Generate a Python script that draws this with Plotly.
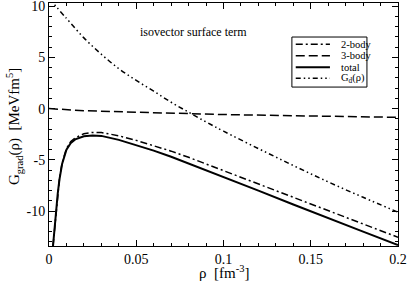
import plotly.graph_objects as go

# ---- data ----
rho_tot = [0.0023, 0.003, 0.004, 0.005, 0.006, 0.0075, 0.01, 0.0125, 0.015, 0.02, 0.025, 0.03,
           0.04, 0.05, 0.06, 0.07, 0.08, 0.09, 0.1, 0.12, 0.14, 0.16, 0.18, 0.2]
total = [-13.4, -12.0, -10.0, -8.3, -6.9, -5.4, -4.0, -3.35, -3.0, -2.7, -2.62, -2.66,
         -3.05, -3.55, -4.1, -4.7, -5.35, -6.0, -6.7, -8.0, -9.35, -10.7, -12.0, -13.3]
two_body = [-13.4, -12.0, -10.0, -8.25, -6.85, -5.3, -3.9, -3.2, -2.85, -2.45, -2.32, -2.33,
            -2.65, -3.1, -3.6, -4.15, -4.75, -5.4, -6.1, -7.4, -8.7, -10.0, -11.3, -12.55]

rho_3b = [0.0, 0.01, 0.02, 0.05, 0.08, 0.1, 0.15, 0.2]
three_body = [0.0, -0.12, -0.2, -0.35, -0.5, -0.58, -0.72, -0.85]

rho_gd = [0.0, 0.01, 0.02, 0.03, 0.04, 0.05, 0.06, 0.07, 0.08, 0.09, 0.1,
          0.12, 0.14, 0.16, 0.18, 0.2]
gd = [10.75, 8.8, 6.9, 5.3, 3.9, 2.75, 1.7, 0.62, -0.35, -1.3, -2.2,
      -3.9, -5.55, -7.15, -8.65, -10.1]

xtick_vals = [0, 0.05, 0.1, 0.15, 0.2]
xtick_text = ["0", "0.05", "0.1", "0.15", "0.2"]
ytick_vals = [-10, -5, 0, 5, 10]
ytick_text = ["-10", "-5", "0", "5", "10"]

legend_names = ["2-body", "3-body", "total", "G<sub>d</sub>(ρ)"]

FONT = "Liberation Serif, Times New Roman, Times, serif"
DASH_2B = "7px,3px,2px,3px"
DASH_3B = "9px,4px"
DASH_GD = "5px,3px,1.5px,3px,1.5px,3px"

fig = go.Figure()
fig.add_trace(go.Scatter(x=rho_tot, y=two_body, mode="lines",
                         line=dict(color="black", width=1.5, dash=DASH_2B), name=legend_names[0]))
fig.add_trace(go.Scatter(x=rho_3b, y=three_body, mode="lines",
                         line=dict(color="black", width=1.5, dash=DASH_3B), name=legend_names[1]))
fig.add_trace(go.Scatter(x=rho_tot, y=total, mode="lines",
                         line=dict(color="black", width=2), name=legend_names[2]))
fig.add_trace(go.Scatter(x=rho_gd, y=gd, mode="lines", line_shape="spline",
                         line=dict(color="black", width=1.5, dash=DASH_GD), name=legend_names[3]))

axis_common = dict(showline=True, linecolor="black", linewidth=1, mirror="allticks",
                   ticks="inside", ticklen=6, tickcolor="black", showgrid=False, zeroline=False,
                   automargin=False, ticklabeloverflow="allow",
                   tickfont=dict(family=FONT, size=14, color="black"))

fig.update_xaxes(range=[0, 0.2], tickmode="array", tickvals=xtick_vals, ticktext=xtick_text,
                 minor=dict(dtick=0.01, ticks="inside", ticklen=3, tickcolor="black", showgrid=False),
                 **axis_common)
fig.update_yaxes(range=[-13.4, 10.3], tickmode="array", tickvals=ytick_vals, ticktext=ytick_text,
                 minor=dict(dtick=1, ticks="inside", ticklen=3, tickcolor="black", showgrid=False),
                 **axis_common)

# axis titles
fig.add_annotation(xref="paper", yref="paper", x=0.501, y=-0.107, text="ρ  [fm<sup>-3</sup>]",
                   showarrow=False, xanchor="center", yanchor="middle",
                   font=dict(family=FONT, size=15, color="black"))
fig.add_annotation(xref="paper", yref="paper", x=-0.10, y=0.49,
                   text="G<sub>grad</sub>(ρ)  [MeVfm<sup>5</sup>]", textangle=-90,
                   showarrow=False, xanchor="center", yanchor="middle",
                   font=dict(family=FONT, size=15, color="black"))

# manual legend box
lx0, lx1, ly0, ly1 = 0.696, 0.911, 0.654, 0.860
fig.add_shape(type="rect", xref="paper", yref="paper", x0=lx0, x1=lx1, y0=ly0, y1=ly1,
              line=dict(color="black", width=1), fillcolor="white")
entry_y = [0.830, 0.783, 0.736, 0.690]
styles = [dict(width=1.5, dash=DASH_2B), dict(width=1.5, dash=DASH_3B),
          dict(width=2, dash="solid"), dict(width=1.5, dash=DASH_GD)]
for yy, st, nm in zip(entry_y, styles, legend_names):
    fig.add_shape(type="line", xref="paper", yref="paper", x0=0.707, x1=0.805, y0=yy, y1=yy,
                  line=dict(color="black", **st))
    fig.add_annotation(xref="paper", yref="paper", x=0.832, y=yy, text=nm, showarrow=False,
                       xanchor="left", yanchor="middle",
                       font=dict(family=FONT, size=10.5, color="black"))

fig.add_annotation(xref="paper", yref="paper", x=0.413, y=0.882, text="isovector surface term",
                   showarrow=False, xanchor="center", yanchor="middle",
                   font=dict(family=FONT, size=12, color="black"))

fig.update_layout(width=407, height=282, margin=dict(l=49, r=9, t=3, b=36, autoexpand=False),
                  paper_bgcolor="white", plot_bgcolor="white", showlegend=False,
                  font=dict(family=FONT, color="black"))

fig.write_html("out.html", config={"displayModeBar": False},
               post_script="document.body.style.margin='0';")
